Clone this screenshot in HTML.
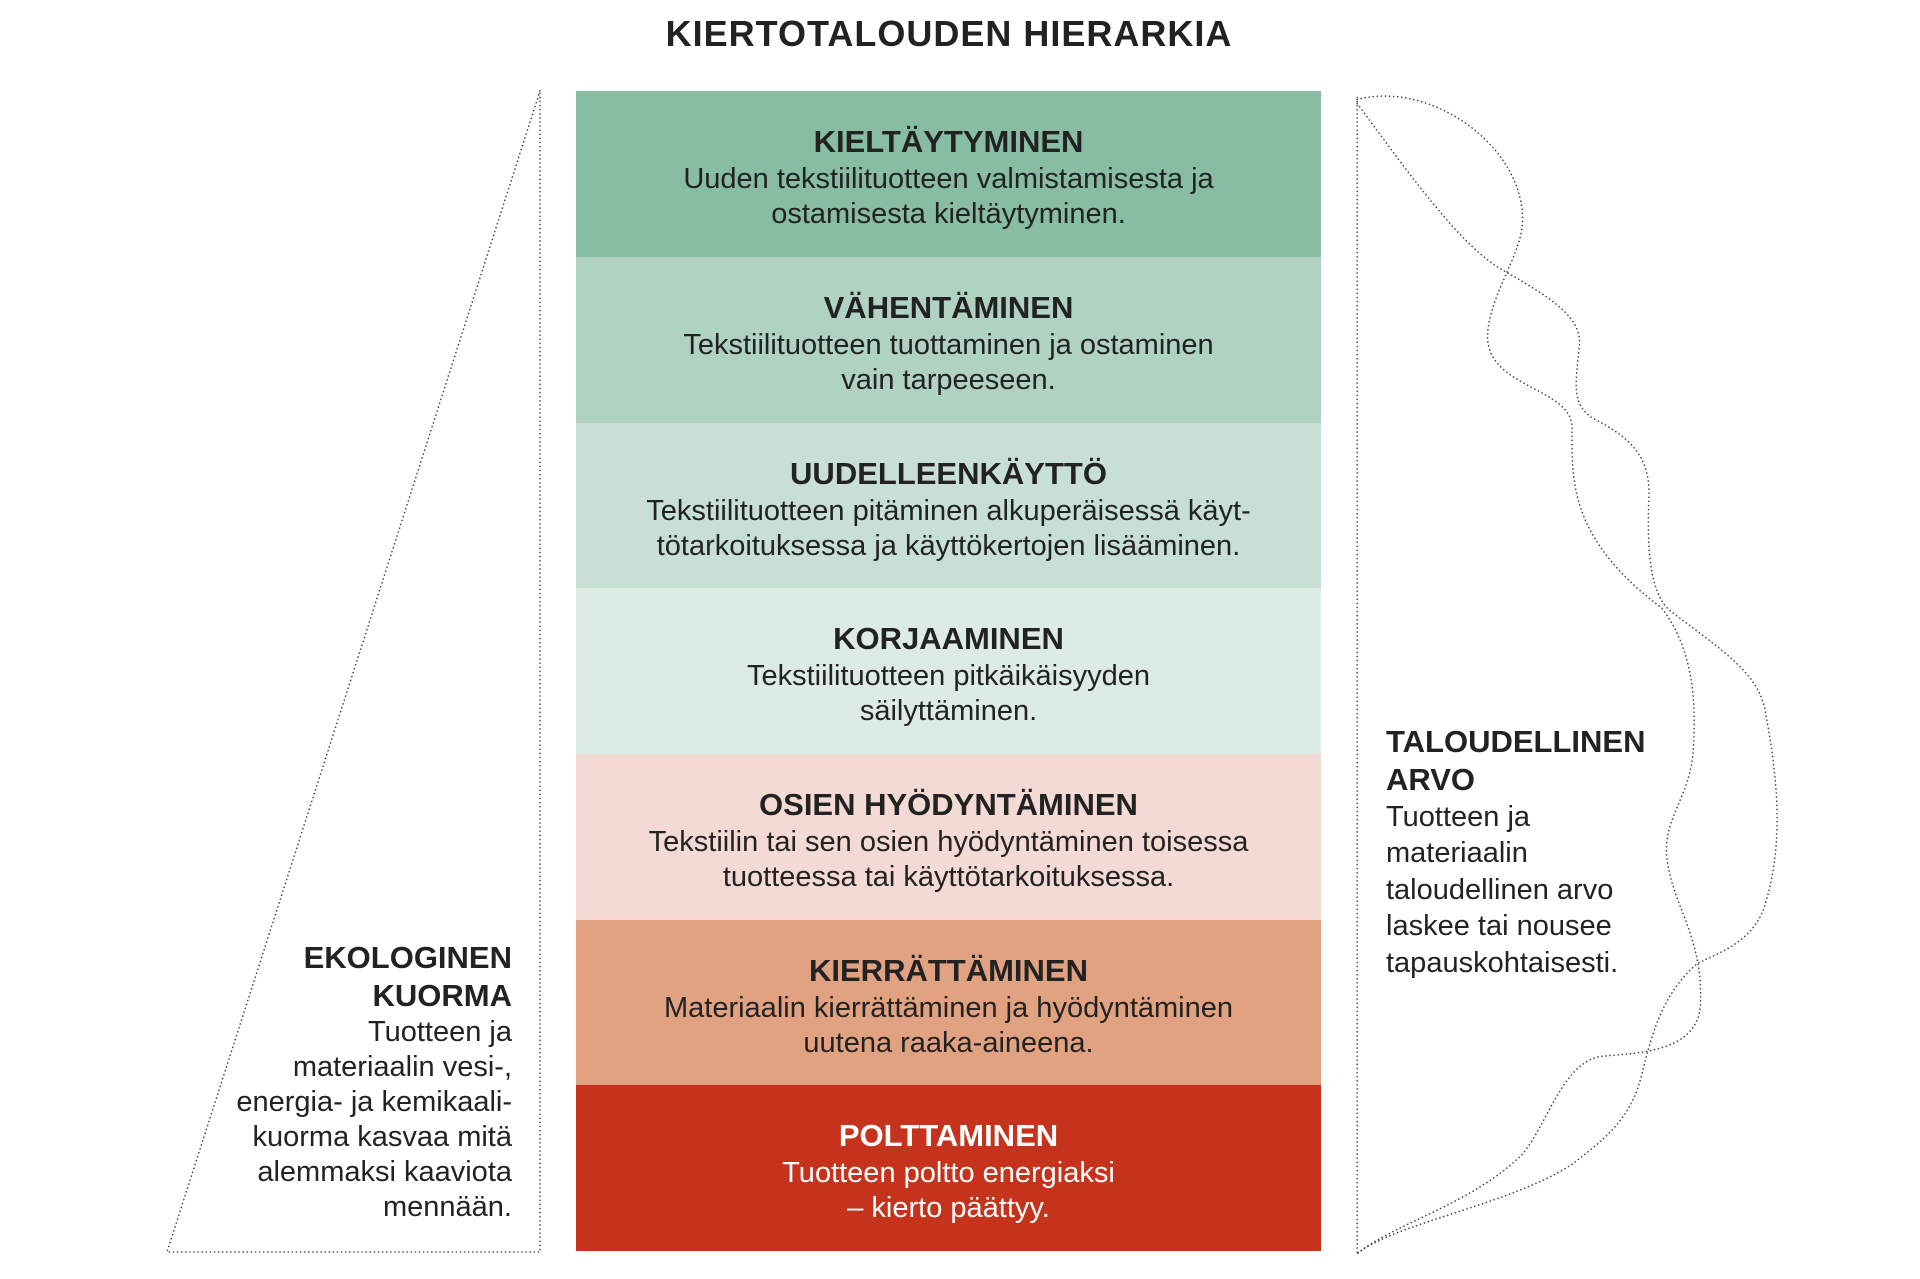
<!DOCTYPE html>
<html><head><meta charset="utf-8"><style>
body{margin:0;width:1920px;height:1279px;background:#fff;position:relative;overflow:hidden;font-family:"Liberation Sans",sans-serif;color:#222}
.t{position:absolute;white-space:nowrap}
.row{position:absolute;left:576px;width:745px;height:166px;text-align:center}
.row h{display:block;position:absolute;left:0;right:0;top:33px;font-weight:bold;font-size:31px;line-height:36px}
.row p{position:absolute;left:-20px;right:-20px;top:71px;margin:0;font-size:29px;line-height:35px;white-space:nowrap}
.side{position:absolute;font-size:29px;line-height:35px;white-space:nowrap}
.side b{font-size:31px;line-height:38px;display:block}
</style></head><body>
<div class="t" style="left:0;width:1898px;text-align:center;top:13px;font-size:36px;font-weight:bold;letter-spacing:1px">KIERTOTALOUDEN HIERARKIA</div>

<div class="row" style="top:91px;background:#88bda3"><h>KIELTÄYTYMINEN</h><p>Uuden tekstiilituotteen valmistamisesta ja<br>ostamisesta kieltäytyminen.</p></div>
<div class="row" style="top:257px;background:#b0d2c0"><h>VÄHENTÄMINEN</h><p>Tekstiilituotteen tuottaminen ja ostaminen<br>vain tarpeeseen.</p></div>
<div class="row" style="top:423px;background:#c8e0d3"><h>UUDELLEENKÄYTTÖ</h><p>Tekstiilituotteen pitäminen alkuperäisessä käyt-<br>tötarkoituksessa ja käyttökertojen lisääminen.</p></div>
<div class="row" style="top:588px;background:#dcebe6"><h>KORJAAMINEN</h><p>Tekstiilituotteen pitkäikäisyyden<br>säilyttäminen.</p></div>
<div class="row" style="top:754px;background:#f4dad5"><h>OSIEN HYÖDYNTÄMINEN</h><p>Tekstiilin tai sen osien hyödyntäminen toisessa<br>tuotteessa tai käyttötarkoituksessa.</p></div>
<div class="row" style="top:920px;background:#e0a281"><h>KIERRÄTTÄMINEN</h><p>Materiaalin kierrättäminen ja hyödyntäminen<br>uutena raaka-aineena.</p></div>
<div class="row" style="top:1085px;height:166px;background:#c5331c;color:#fff"><h>POLTTAMINEN</h><p>Tuotteen poltto energiaksi<br>– kierto päättyy.</p></div>

<svg width="1920" height="1279" style="position:absolute;left:0;top:0" fill="none" stroke="#444" stroke-width="1.6" stroke-dasharray="0.1 4" stroke-linecap="round" stroke-linejoin="round">
<polygon points="540,91 167,1252 540,1252"/>
<g transform="scale(0.995)">
<line x1="1364" y1="98" x2="1364" y2="1262"/>
<path d="M1364,100 C1440,80 1535,150 1530,226 C1527,260 1495,300 1495,340 C1497,390 1580,390 1580,430 C1580,480 1575,540 1670,611 C1700,650 1705,700 1702,750 C1700,800 1672,820 1675,860 C1680,910 1712,940 1709,1010 C1706,1060 1640,1058 1607,1062 C1570,1070 1555,1130 1530,1160 C1480,1210 1400,1230 1364,1260"/>
<path d="M1364,104 C1420,180 1470,250 1513,273 C1560,300 1592,320 1587,350 C1583,390 1580,405 1600,420 C1640,440 1660,460 1657,504 C1655,560 1660,600 1680,615 C1740,660 1770,680 1775,720 C1790,800 1790,860 1773,912 C1760,950 1720,960 1705,969 C1670,1000 1660,1040 1650,1080 C1640,1120 1620,1140 1580,1170 C1520,1210 1400,1230 1364,1260"/>
</g>
</svg>

<div class="side" style="right:1408px;top:939px;text-align:right"><b>EKOLOGINEN<br>KUORMA</b>Tuotteen ja<br>materiaalin vesi-,<br>energia- ja kemikaali-<br>kuorma kasvaa mitä<br>alemmaksi kaaviota<br>mennään.</div>
<div class="side" style="left:1386px;top:723px;line-height:36.4px"><b>TALOUDELLINEN<br>ARVO</b>Tuotteen ja<br>materiaalin<br>taloudellinen arvo<br>laskee tai nousee<br>tapauskohtaisesti.</div>
</body></html>
